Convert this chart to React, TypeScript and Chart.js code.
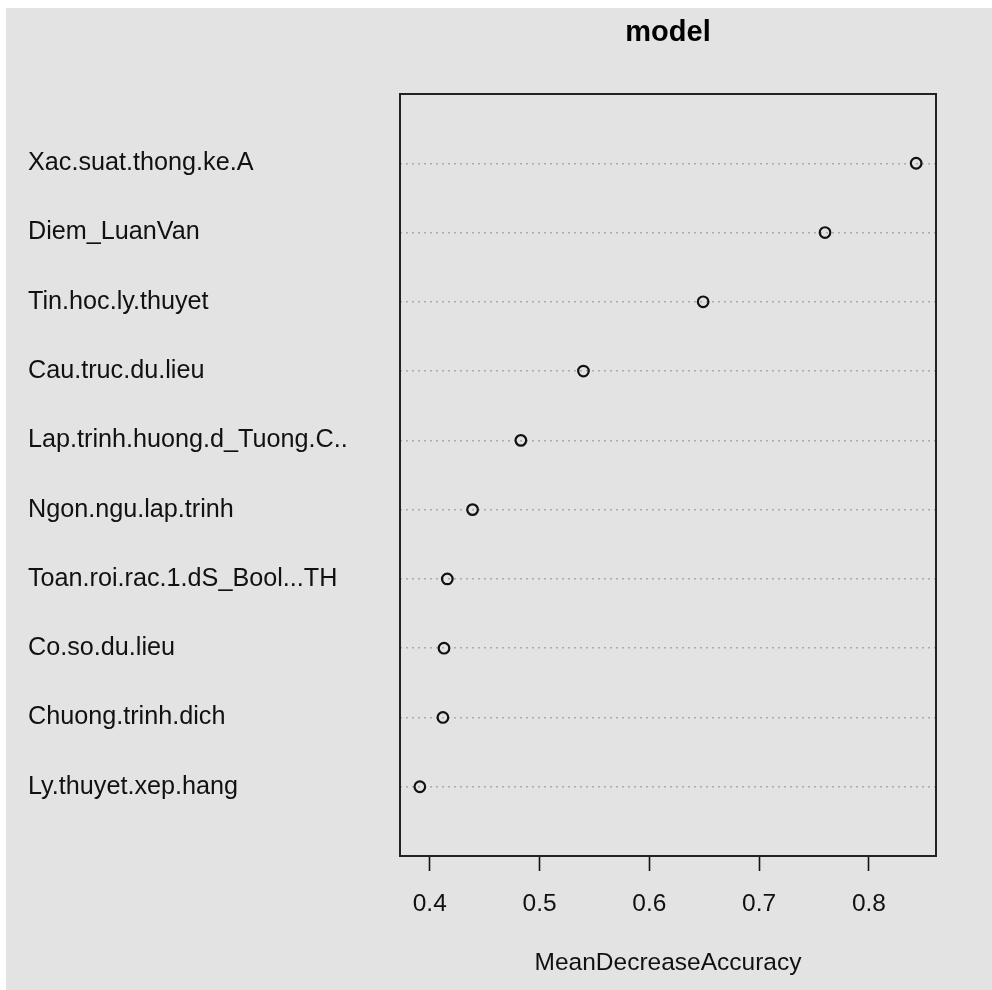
import React, { useEffect, useRef } from "react";
import { Chart, registerables } from "chart.js";

Chart.register(...registerables);

// ---- data (top to bottom, as in the reference) ----
const variables = [
  "Xac.suat.thong.ke.A",
  "Diem_LuanVan",
  "Tin.hoc.ly.thuyet",
  "Cau.truc.du.lieu",
  "Lap.trinh.huong.d_Tuong.C..",
  "Ngon.ngu.lap.trinh",
  "Toan.roi.rac.1.dS_Bool...TH",
  "Co.so.du.lieu",
  "Chuong.trinh.dich",
  "Ly.thuyet.xep.hang",
];
const meanDecreaseAccuracy = [0.843, 0.76, 0.649, 0.54, 0.483, 0.439, 0.416, 0.413, 0.412, 0.391];
const xTicks = [0.4, 0.5, 0.6, 0.7, 0.8];
const chartTitle = "model";
const xAxisTitle = "MeanDecreaseAccuracy";

const FONT = "'Liberation Sans', Arial, Helvetica, sans-serif";

const boxPlugin = {
  id: "plotBox",
  afterDraw(chart: any) {
    const { ctx, chartArea } = chart;
    const { left, top, right, bottom } = chartArea;
    ctx.save();
    ctx.strokeStyle = "#222";
    ctx.lineWidth = 2;
    ctx.strokeRect(left, top, right - left, bottom - top);
    ctx.restore();
  },
};

export default function App() {
  const ref = useRef<HTMLCanvasElement | null>(null);

  useEffect(() => {
    if (!ref.current) return;
    const dMin = Math.min(...meanDecreaseAccuracy);
    const dMax = Math.max(...meanDecreaseAccuracy);
    const ext = (dMax - dMin) * 0.04;
    const chart = new Chart(ref.current, {
      type: "scatter",
      data: {
        datasets: [
          {
            data: meanDecreaseAccuracy.map((v, i) => ({ x: v, y: i + 1 })),
            pointStyle: "circle",
            pointRadius: 5.3,
            pointHoverRadius: 5.3,
            pointBorderWidth: 2.2,
            pointBorderColor: "#111",
            pointBackgroundColor: "rgba(0,0,0,0)",
            showLine: false,
          },
        ],
      },
      options: {
        responsive: false,
        animation: false,
        events: [],
        layout: { padding: { left: 22, right: 56, top: 0, bottom: 0 } },
        plugins: {
          legend: { display: false },
          tooltip: { enabled: false },
          title: {
            display: true,
            text: chartTitle,
            fullSize: false,
            color: "#000",
            font: { family: FONT, size: 29, weight: "bold", lineHeight: 1.2 },
            padding: { top: 8, bottom: 43.2 },
          },
        },
        scales: {
          x: {
            type: "linear",
            min: dMin - ext,
            max: dMax + ext,
            afterBuildTicks: (s: any) => {
              s.ticks = xTicks.map((v) => ({ value: v }));
            },
            afterFit: (s: any) => {
              s.height = 134;
            },
            ticks: {
              color: "#111",
              font: { family: FONT, size: 24.5, lineHeight: 1.2 },
              padding: 19,
              maxRotation: 0,
              autoSkip: false,
              callback: (v: any) => Number(v).toFixed(1),
            },
            grid: {
              drawOnChartArea: false,
              drawTicks: true,
              tickLength: 15,
              tickColor: "#111",
              tickWidth: 1.6,
            },
            border: { display: false },
            title: {
              display: true,
              text: xAxisTitle,
              color: "#111",
              font: { family: FONT, size: 24.5, lineHeight: 1.2 },
              padding: { top: 0, bottom: 12 },
            },
          },
          y: {
            type: "linear",
            min: 0,
            max: variables.length + 1,
            reverse: true,
            afterBuildTicks: (s: any) => {
              s.ticks = variables.map((_, i) => ({ value: i + 1 }));
            },
            afterFit: (s: any) => {
              s.width = 372;
            },
            ticks: {
              color: "#111",
              font: { family: FONT, size: 25.2, lineHeight: 1.2 },
              crossAlign: "far",
              autoSkip: false,
              padding: 0,
              callback: (_v: any, i: number) => variables[i],
            },
            grid: {
              display: true,
              drawOnChartArea: true,
              drawTicks: false,
              color: "#ababab",
              lineWidth: 1.5,
            },
            border: { display: false, dash: [2, 4] },
          },
        },
      },
      plugins: [boxPlugin],
    } as any);
    return () => chart.destroy();
  }, []);

  return (
    <div
      style={{
        position: "absolute",
        left: 6,
        top: 8,
        width: 986,
        height: 982,
        background: "#e3e3e3",
      }}
    >
      <canvas ref={ref} width={986} height={982} style={{ display: "block", width: 986, height: 982 }} />
    </div>
  );
}
